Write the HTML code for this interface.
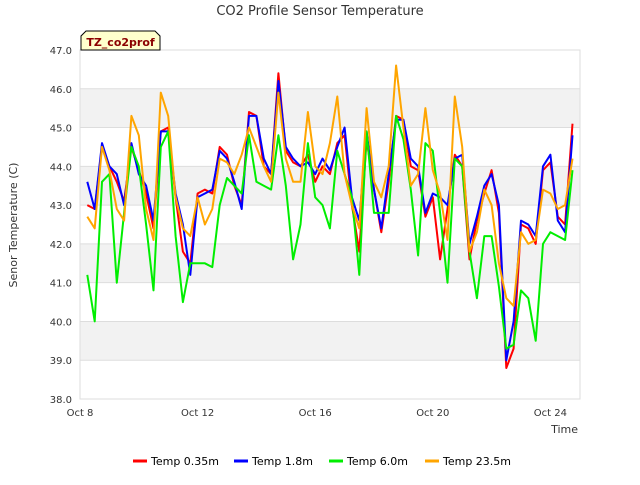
<!DOCTYPE html>
<html><head><meta charset="utf-8"><style>
body{margin:0;background:#fff;font-family:"Liberation Sans",sans-serif}
svg text{font-family:"DejaVu Sans","Liberation Sans",sans-serif}
</style></head><body>
<svg id="chart" width="640" height="480" xmlns="http://www.w3.org/2000/svg">
<text x="320" y="15" text-anchor="middle" font-size="13" fill="#333">CO2 Profile Sensor Temperature</text>
<g id="bands"></g><g id="grid"></g>
<rect x="80" y="50" width="500" height="349" fill="none" stroke="#ddd"/>
<g id="yticks"></g><g id="xticks"></g><g id="series"></g>
<text transform="translate(17,225) rotate(-90)" text-anchor="middle" font-size="11" fill="#333">Senor Temperature (C)</text>
<text x="578" y="433" text-anchor="end" font-size="11" fill="#333">Time</text>
<g>
<path d="M81,50 L81,36 L86,31 L155,31 L160,36 L160,50 Z" fill="#ffffcc" stroke="#000" stroke-width="1"/>
<text x="120.5" y="46" text-anchor="middle" font-size="11" font-weight="bold" fill="#8b0000">TZ_co2prof</text>
</g>
<g id="legend"></g>
</svg>
<script>
const days = [];
for (let i = 1; i <= 67; i++) days.push(i * 0.25);
const red = [43.0,42.9,44.5,44.0,43.6,43.1,44.5,43.9,43.3,42.4,44.9,45.0,43.2,41.8,41.5,43.3,43.4,43.3,44.5,44.3,43.5,43.0,45.4,45.3,44.0,43.8,46.4,44.4,44.1,44.0,44.3,43.6,44.0,43.8,44.6,44.8,43.0,41.8,44.7,43.4,42.3,43.6,45.3,45.2,44.0,43.9,42.7,43.2,41.6,42.9,44.3,44.0,41.6,42.6,43.3,43.9,42.8,38.8,39.3,42.5,42.4,42.0,43.9,44.1,42.7,42.5,45.1];
const blue = [43.6,42.9,44.6,44.0,43.8,43.0,44.6,43.8,43.5,42.6,44.9,44.9,43.3,42.5,41.2,43.2,43.3,43.4,44.4,44.2,43.6,42.9,45.3,45.3,44.2,43.8,46.2,44.5,44.2,44.0,44.1,43.8,44.2,43.9,44.5,45.0,43.2,42.6,44.9,43.4,42.4,43.8,45.2,45.2,44.2,44.0,42.8,43.3,43.2,43.0,44.2,44.3,42.0,42.7,43.5,43.8,43.0,39.0,40.0,42.6,42.5,42.2,44.0,44.3,42.6,42.3,44.8];
const green = [41.2,40.0,43.6,43.8,41.0,42.8,44.5,44.0,42.5,40.8,44.5,44.9,42.2,40.5,41.5,41.5,41.5,41.4,43.0,43.7,43.5,43.3,44.8,43.6,43.5,43.4,44.8,43.5,41.6,42.5,44.6,43.2,43.0,42.4,44.4,43.8,43.2,41.2,44.9,42.8,42.8,42.8,45.3,44.7,43.4,41.7,44.6,44.4,42.8,41.0,44.2,44.0,41.8,40.6,42.2,42.2,40.9,39.3,39.4,40.8,40.6,39.5,42.0,42.3,42.2,42.1,43.9];
const orange = [42.7,42.4,44.5,43.9,42.9,42.6,45.3,44.8,42.9,42.1,45.9,45.3,43.2,42.4,42.2,43.2,42.5,42.9,44.2,44.1,43.8,44.3,45.0,44.5,44.0,43.6,45.9,44.2,43.6,43.6,45.4,44.0,43.8,44.6,45.8,43.8,43.0,42.4,45.5,43.6,43.2,44.0,46.6,45.0,43.5,43.8,45.5,43.9,43.3,42.1,45.8,44.5,41.8,42.3,43.4,43.0,41.5,40.6,40.4,42.3,42.0,42.1,43.4,43.3,42.9,43.0,44.2];
const yTicks = [38,39,40,41,42,43,44,45,46,47];
const xTickDays = [0,4,8,12,16];
const xTickLabels = ["Oct 8","Oct 12","Oct 16","Oct 20","Oct 24"];
const seriesNames = ["Temp 0.35m","Temp 1.8m","Temp 6.0m","Temp 23.5m"];
const colors = ["#ff0000","#0000ff","#00ee00","#ffa500"];

const NS = "http://www.w3.org/2000/svg";
const X = d => 80 + d * 29.4;
const Y = v => 399 - (v - 38) * 38.78;
function mk(tag, attrs, parent) {
  const e = document.createElementNS(NS, tag);
  for (const k in attrs) e.setAttribute(k, attrs[k]);
  parent.appendChild(e);
  return e;
}
const bands = document.getElementById('bands');
for (const v of [39,41,43,45]) {
  const r = mk('rect', {x:80, y:Y(v+1), width:500, height:Y(v)-Y(v+1), fill:'#f2f2f2'}, bands);
  
  
}
const grid = document.getElementById('grid');
const yt = document.getElementById('yticks');
for (const v of yTicks) {
  const l = mk('line', {x1:80, x2:580, y1:Y(v), y2:Y(v), stroke:'#ddd'}, grid);
  
  
  const t = mk('text', {x:72, y:Y(v)+4, 'text-anchor':'end', 'font-size':10, fill:'#333'}, yt);
  t.textContent = v.toFixed(1);
  
  
}
const xt = document.getElementById('xticks');
xTickDays.forEach((d, i) => {
  const t = mk('text', {x:X(d), y:416, 'text-anchor':'middle', 'font-size':10, fill:'#333'}, xt);
  t.textContent = xTickLabels[i];
  
  
});
const sg = document.getElementById('series');
[red, blue, green, orange].forEach((arr, si) => {
  const pts = arr.map((v, i) => X(days[i]).toFixed(1) + ',' + Y(v).toFixed(1)).join(' ');
  const p = mk('polyline', {points:pts, fill:'none', stroke:colors[si], 'stroke-width':2, 'stroke-linejoin':'round'}, sg);
  
  
});
const lg = document.getElementById('legend');
const lx = [133, 234, 329, 425];
seriesNames.forEach((n, i) => {
  const g = mk('g', {}, lg);
  
  
  mk('line', {x1:lx[i], x2:lx[i]+14, y1:461, y2:461, stroke:colors[i], 'stroke-width':3}, g);
  const t = mk('text', {x:lx[i]+18, y:465, 'font-size':11, fill:'#000'}, g);
  t.textContent = n;
});
</script>
</body></html>
